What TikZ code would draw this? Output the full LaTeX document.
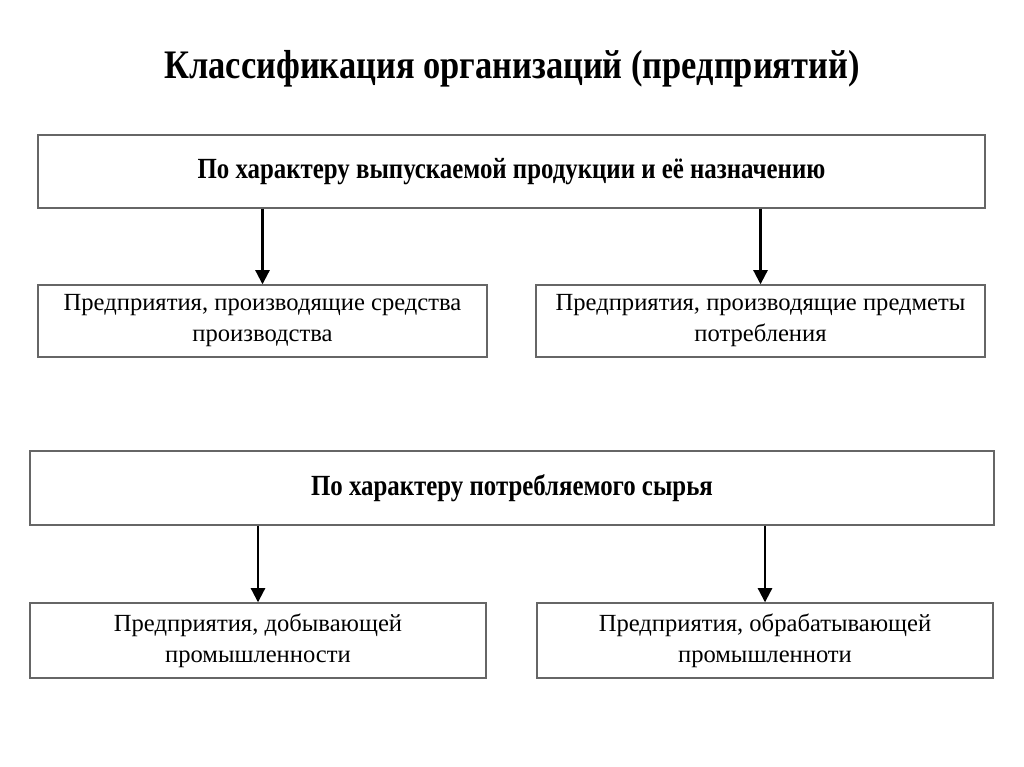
\documentclass[tikz,border=0pt]{standalone}
\usepackage{fontspec}
\setmainfont{Liberation Serif}
\newfontfamily\condserif[FakeStretch=0.85]{Liberation Serif}
\usetikzlibrary{arrows.meta}

\tikzset{
  frame/.style={draw=black!60, line width=1pt, align=center, inner sep=0pt},
  kind/.style={frame, font=\condserif\bfseries\fontsize{20.8}{24}\selectfont},
  group/.style={frame, font=\fontsize{17.5}{22}\selectfont},
  link/.style={line width=1.5pt, -{Triangle[length=10pt,width=10pt]}}
}

\begin{document}
\begin{tikzpicture}[x=0.025cm, y=-0.025cm]
    \useasboundingbox (0,0) rectangle (1024,767);

    % Title
    \node (title) at (512,69) {\condserif\bfseries\fontsize{28.8}{34}\selectfont Классификация организаций (предприятий)};

    % By kind of product
    \node[kind, minimum width=23.675cm, minimum height=1.825cm] (prod) at (511.5,171.5) {По характеру выпускаемой продукции и её назначению};
    \node[group, minimum width=11.225cm, minimum height=1.8cm] (means) at (262.5,321) {Предприятия, производящие средства\\производства};
    \node[group, minimum width=11.225cm, minimum height=1.8cm] (goods) at (760.5,321) {Предприятия, производящие предметы\\потребления};
    \draw[link] (prod.south -| means.north) -- (means.north);
    \draw[link] (prod.south -| goods.north) -- (goods.north);

    % By raw material
    \node[kind, minimum width=24.1cm, minimum height=1.85cm] (raw) at (512,488) {По характеру потребляемого сырья};
    \node[group, minimum width=11.4cm, minimum height=1.875cm] (mining) at (258,640.5) {Предприятия, добывающей\\промышленности};
    \node[group, minimum width=11.4cm, minimum height=1.875cm] (proc) at (765,640.5) {Предприятия, обрабатывающей\\промышленноти};
    \draw[link] (raw.south -| mining.north) -- (mining.north);
    \draw[link] (raw.south -| proc.north) -- (proc.north);
\end{tikzpicture}
\end{document}
